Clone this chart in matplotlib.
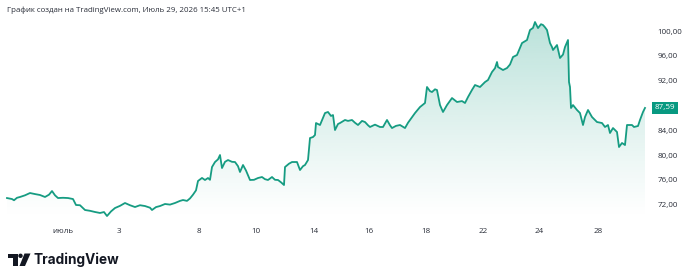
import numpy as np
import matplotlib
matplotlib.use("Agg")
import matplotlib.pyplot as plt
from matplotlib.patches import Polygon, Circle, Rectangle

# price series (bar index, close)
bars = [7, 12, 14, 17, 20, 25, 30, 35, 40, 45, 49, 52, 55, 58, 63, 68, 73, 76, 80, 85,
        90, 95, 100, 104, 107, 111, 115, 120, 125, 130, 135, 140, 145, 150, 152, 156, 160, 165, 170, 175,
        180, 183, 187, 190, 193, 196, 198, 202, 205, 208, 210, 212, 215, 218, 220, 222, 225, 228, 232, 235,
        238, 240, 243, 246, 250, 254, 258, 262, 265, 268, 272, 275, 278, 281, 284, 285, 289, 292, 297, 300,
        303, 305, 308, 310, 313, 315, 316, 320, 323, 325, 328, 331, 333, 335, 338, 340, 345, 348, 352, 355,
        358, 362, 365, 368, 370, 375, 380, 383, 387, 390, 392, 396, 400, 405, 408, 410, 415, 420, 425, 427,
        430, 432, 435, 437, 440, 443, 447, 452, 457, 462, 465, 468, 472, 475, 480, 485, 488, 492, 495, 497,
        498, 503, 507, 510, 513, 517, 520, 522, 527, 530, 533, 535, 538, 541, 543, 545, 547, 550, 552, 553,
        557, 560, 563, 565, 568, 569, 570, 571, 573, 577, 580, 583, 585, 588, 592, 597, 602, 605, 608, 610,
        613, 617, 619, 622, 625, 627, 632, 634, 638, 640, 643, 645]
close = [73.06, 72.90, 72.70, 73.10, 73.23, 73.50, 73.87, 73.70, 73.55, 73.23, 73.60, 74.19, 73.50, 73.06, 73.10, 73.06, 72.90, 71.94, 71.90, 71.13,
         71.00, 70.81, 70.65, 70.80, 70.16, 70.90, 71.45, 71.80, 72.26, 71.90, 71.61, 71.90, 71.77, 71.50, 71.13, 71.60, 71.77, 72.10, 72.00, 72.26,
         72.60, 72.74, 72.60, 73.00, 73.60, 74.30, 75.81, 76.30, 75.97, 76.29, 76.00, 78.06, 78.87, 79.30, 80.00, 77.90, 78.90, 79.19, 78.90, 78.87,
         78.20, 77.26, 78.39, 77.50, 75.97, 76.00, 76.29, 76.45, 76.10, 75.97, 76.45, 76.00, 75.97, 75.60, 75.16, 78.06, 78.60, 78.87, 78.87, 77.58,
         78.20, 78.39, 79.19, 82.74, 82.90, 83.23, 85.16, 84.84, 86.00, 86.77, 86.94, 86.30, 86.45, 84.03, 85.00, 85.16, 85.65, 85.50, 85.65, 85.20,
         84.84, 85.50, 85.32, 84.80, 84.52, 84.90, 84.52, 84.52, 85.65, 84.80, 84.35, 84.70, 84.84, 84.35, 85.20, 85.65, 86.77, 87.74, 88.39, 90.97,
         90.30, 90.16, 90.60, 90.48, 88.06, 86.94, 88.06, 89.19, 88.55, 88.70, 88.39, 89.35, 90.50, 91.29, 90.97, 91.77, 92.10, 93.39, 94.00, 95.00,
         94.19, 93.71, 94.03, 94.60, 95.81, 96.13, 97.30, 98.06, 98.55, 100.16, 100.50, 101.45, 100.48, 101.10, 100.97, 100.60, 100.16, 98.06, 97.42, 96.94,
         97.74, 95.65, 96.20, 97.42, 98.55, 91.77, 90.97, 87.58, 88.06, 87.26, 86.77, 84.84, 86.13, 87.26, 86.13, 85.32, 85.16, 84.52, 84.84, 83.55,
         84.35, 83.71, 81.29, 81.94, 81.61, 84.84, 84.84, 84.52, 84.68, 85.65, 86.94, 87.59]

date_ticks = [63, 119, 199, 256, 314, 369, 426, 483, 539, 598]
date_labels = ["июль", "3", "8", "10", "14", "16", "18", "22", "24", "28"]
price_ticks = [72, 76, 80, 84, 88, 92, 96, 100]
price_labels = ["72,00", "76,00", "80,00", "84,00", "", "92,00", "96,00", "100,00"]
last_price = close[-1]

line_col = "#169c82"
text_col = "#2a2e39"
axis_font = ["Open Sans", "DejaVu Sans"]

fig = plt.figure(figsize=(6.96, 2.8), dpi=100)
ax = fig.add_axes([0, 1 - 218 / 280, 648 / 696, 200 / 280])
ax.set_xlim(0, 648)
ax.set_ylim(69.84, 102.1)

# gradient area under the line
grad = np.linspace(0.0, 1.0, 256).reshape(-1, 1)
rgba = np.zeros((256, 1, 4))
rgba[..., :3] = matplotlib.colors.to_rgb(line_col)
rgba[..., 3] = 0.30 * grad ** 1.1
img = ax.imshow(rgba, extent=[0, 648, 69.84, 102.1], origin="lower", aspect="auto", zorder=1)
poly = Polygon(list(zip(bars, close)) + [(bars[-1], 69.84), (bars[0], 69.84)],
               closed=True, facecolor="none", edgecolor="none")
ax.add_patch(poly)
img.set_clip_path(poly)

ax.plot(bars, close, color=line_col, lw=1.3, zorder=3, solid_joinstyle="round")

for s in ax.spines.values():
    s.set_visible(False)
ax.yaxis.tick_right()
ax.set_yticks(price_ticks)
ax.set_yticklabels(price_labels, family=axis_font)
ax.tick_params(axis="y", length=0, pad=7, labelsize=5.8, labelcolor=text_col)
ax.set_xticks(date_ticks)
ax.set_xticklabels(date_labels, family=axis_font)
ax.tick_params(axis="x", length=0, pad=7, labelsize=5.8, labelcolor=text_col)
for lbl in ax.get_yticklabels():
    lbl.set_horizontalalignment("left")

# last price tag
ax.text(1.0 + 7 / 648, last_price, "87,59", transform=ax.get_yaxis_transform(),
        ha="left", va="center", fontsize=5.8, color="white", family=axis_font,
        bbox=dict(boxstyle="square,pad=0.35", facecolor="#089981", edgecolor="none"))

fig.text(7 / 696, 1 - 10 / 280, "График создан на TradingView.com, Июль 29, 2026 15:45 UTC+1",
         fontsize=5.7, color=text_col, va="center", ha="left", family=["Open Sans", "DejaVu Sans"])

# logo
lg = fig.add_axes([0, 0, 1, 1], facecolor="none")
lg.set_xlim(0, 696)
lg.set_ylim(280, 0)
lg.axis("off")
lg.add_patch(Rectangle((8, 253.5), 9.5, 4.5, color="#131722", lw=0))
lg.add_patch(Rectangle((13, 253.5), 4.5, 12.5, color="#131722", lw=0))
lg.add_patch(Circle((20.5, 255.8), 2.2, color="#131722", lw=0))
lg.add_patch(Polygon([(24.5, 253.5), (30.5, 253.5), (25, 266), (19.5, 266)], closed=True,
                     color="#131722", lw=0))
lg.text(34, 260, "TradingView", fontsize=9.8, fontweight="bold", color="#131722",
        va="center", ha="left", family=["Inter", "DejaVu Sans"])

fig.savefig("out.png", dpi=100)
